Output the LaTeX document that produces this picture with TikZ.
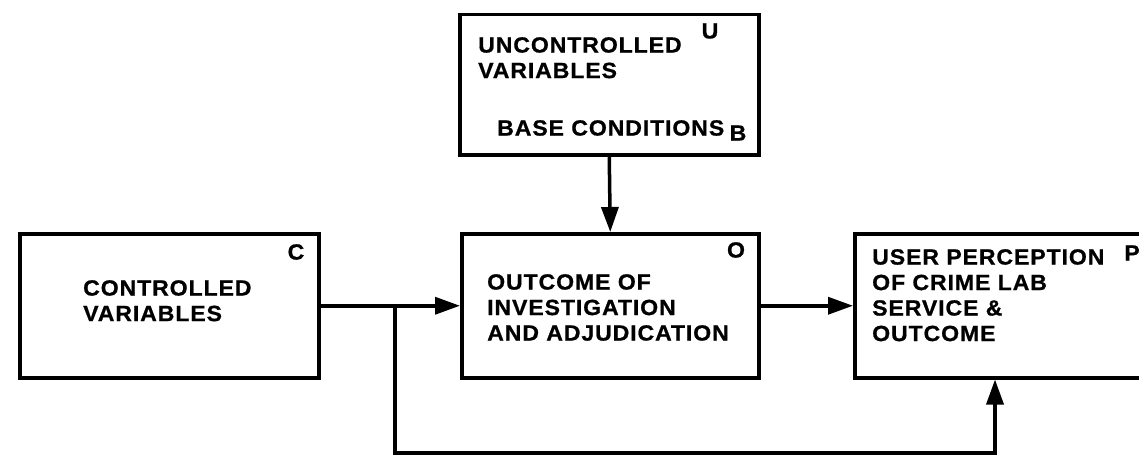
\documentclass[tikz,border=0pt]{standalone}
\usepackage{fontspec}
\setmainfont{Liberation Sans}[LetterSpace=4, FakeStretch=1.05, BoldFeatures={FakeBold=0.8}]
\usetikzlibrary{arrows.meta}

\tikzset{
  block/.style={draw, line width=3.5pt, anchor=north west, inner sep=0pt},
  label text/.style={font=\bfseries\fontsize{22}{25.5}\selectfont, align=left,
                     anchor=north west, inner sep=0pt},
  tag/.style={font=\bfseries\fontsize{22}{26}\selectfont, inner sep=0pt},
  link/.style={line width=3.5pt, -{Triangle[length=25pt,width=17pt]}}
}

\begin{document}
\begin{tikzpicture}[x=1pt, y=-1pt]
  \useasboundingbox (0,0) rectangle (1139,460);

  % blocks
  \node[block, minimum width=299pt, minimum height=140pt] (u) at (458,13) {};
  \node[block, minimum width=299pt, minimum height=144pt] (c) at (18,232) {};
  \node[block, minimum width=297pt, minimum height=144pt] (o) at (460,232) {};
  \node[block, minimum width=320pt, minimum height=144pt] (p) at (853,232) {};

  % block texts
  \node[label text] (ut) at (478,37) {UNCONTROLLED\\VARIABLES};
  \node[label text] (bt) at (497,120) {BASE CONDITIONS};
  \node[tag] (ul) at (710,31) {U};
  \node[tag] (bl) at (738,133) {B};

  \node[label text] (ct) at (83,280) {CONTROLLED\\VARIABLES};
  \node[tag] (cl) at (296,252) {C};

  \node[label text] (ot) at (487,274) {OUTCOME OF\\INVESTIGATION\\AND ADJUDICATION};
  \node[tag] (ol) at (736,250) {O};

  \node[label text] (pt) at (872,249) {USER PERCEPTION\\OF CRIME LAB\\SERVICE \&\\OUTCOME};
  \node[tag] (pl) at (1132,253) {P};

  % connectors
  \draw[link] (u.south) -- (o.north);
  \draw[link] (c.east) -- (o.west);
  \draw[link] (o.east) -- (p.west);
  \coordinate (br) at (395,304);
  \draw[link] (br) -- ++(0,149) -| ([xshift=142pt]p.south west);
\end{tikzpicture}
\end{document}
